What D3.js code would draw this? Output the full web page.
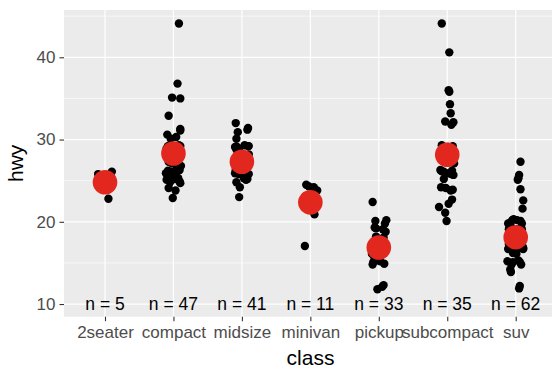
<!DOCTYPE html>
<html><head><meta charset="utf-8">
<script src="https://cdn.jsdelivr.net/npm/d3@7"></script>
<style>body{margin:0;background:#fff}svg{display:block}text{font-family:"Liberation Sans",Arial,Helvetica,sans-serif}</style>
</head><body><svg id="c" width="552" height="368"></svg>
<script>
const classes = ["2seater","compact","midsize","minivan","pickup","subcompact","suv"];
const yTicks = [10,20,30,40];
const yMinor = [15,25,35,45];
const means = [24.8, 28.298, 27.293, 22.364, 16.879, 28.143, 18.129];

// jittered hwy values per class
const hwy2seater = [25.8,22.8,26.1,25.1,24.2];
const dx2seater = [-0.10,0.05,0.10,0.03,-0.04];
const hwyCompact = [29.2,28.8,31.3,30.1,26.3,25.8,27.2,
  26.1,25.3,28.2,26.8,24.8,25.2,24.9,25.1,
  25.2,27.3,24.7,26.9,
  27.1,29.3,30.6,31.1,26.2,25.7,27.3,
  30.3,32.9,35.1,36.8,35.0,
  28.9,26.2,29.1,28.7,24.1,
  44.1,29.3,25.9,28.8,29.2,28.9,29.1,22.9,23.8,
  29.0,26.7];
const dxCompact = [-0.08,0.06,0.10,-0.04,0.09,-0.06,0.03,
  -0.03,0.07,-0.09,0.11,-0.05,0.04,0.09,-0.10,
  0.02,-0.07,0.10,0.05,
  -0.02,0.08,-0.09,0.10,-0.08,0.01,0.06,
  0.04,-0.07,-0.02,0.06,0.10,
  -0.10,0.07,0.01,0.09,-0.07,
  0.08,-0.05,-0.11,0.04,0.10,-0.02,0.07,-0.01,0.03,
  -0.06,0.05];
const hwyMidsize = [24.2,25.1,23.0,
  27.2,30.1,25.8,29.2,26.1,
  26.3,27.1,25.8,26.2,28.1,27.3,27.8,
  31.4,32.0,26.9,26.1,
  25.8,25.2,24.8,
  26.1,25.9,27.2,28.2,25.3,
  29.1,26.8,30.9,31.2,26.2,25.7,28.3,
  29.3,28.8,29.2,28.9,27.8,29.1,26.2];
const dxMidsize = [-0.03,0.06,-0.04,
  0.07,-0.08,0.02,0.09,-0.06,
  -0.09,0.04,0.10,-0.02,0.07,-0.07,0.01,
  0.09,-0.09,0.06,0.03,
  -0.05,0.08,-0.08,
  0.05,-0.10,-0.03,0.10,0.03,
  -0.07,0.09,-0.06,0.08,-0.01,0.06,-0.05,
  0.04,-0.08,0.10,-0.04,0.08,-0.10,0.02];
const hwyMinivan = [24.5,24.2,22.1,21.8,23.8,24.3,17.05,22.2,20.9,23.1,22.8];
const dxMinivan = [-0.06,0.05,0.08,-0.04,0.10,-0.02,-0.08,0.02,0.06,-0.07,0.09];
const hwyPickup = [19.2,18.1,16.8,17.2,18.8,19.3,11.8,17.1,14.8,
  16.2,12.3,16.9,17.3,15.8,12.1,15.2,16.1,16.7,14.9,
  17.0,16.8,16.3,15.7,17.2,15.1,16.9,
  20.1,20.2,22.4,17.1,19.1,18.2,19.8];
const dxPickup = [-0.04,0.07,-0.08,0.03,0.10,-0.06,-0.02,0.06,-0.09,
  0.05,0.07,-0.05,0.09,-0.07,0.05,0.02,-0.10,0.00,0.08,
  -0.03,0.10,0.04,-0.06,0.01,-0.08,0.08,
  -0.05,0.11,-0.09,0.03,0.06,-0.04,0.09];
const hwySubcompact = [25.8,25.2,26.2,23.9,21.1,21.8,22.7,22.2,20.1,
  33.2,32.2,31.8,29.3,32.1,34.3,36.0,35.8,28.8,
  26.1,29.2,28.2,27.1,24.2,23.8,24.1,
  25.9,26.3,25.7,26.1,
  44.1,40.6,29.1,26.2,27.8,28.9];
const dxSubcompact = [0.06,-0.05,-0.09,0.08,-0.03,-0.12,0.07,0.02,-0.01,
  0.05,-0.03,0.06,-0.08,0.09,0.04,0.02,0.03,0.07,
  -0.07,0.08,-0.04,0.10,-0.09,0.05,-0.02,
  0.02,-0.10,0.09,-0.05,
  -0.08,0.03,0.01,0.07,-0.06,-0.03];
const hwySuv = [20.2,15.1,19.8,17.2,16.8,
  19.1,13.9,15.3,17.0,
  16.9,17.3,12.2,16.7,16.1,18.2,14.8,
  17.1,16.8,18.1,
  17.2,19.3,18.8,16.9,19.1,17.3,
  21.6,18.9,20.1,17.1,11.9,19.2,17.8,14.2,
  15.2,18.1,17.9,14.8,
  16.9,16.2,18.3,
  17.1,18.9,19.2,16.7,
  17.2,16.9,20.3,17.8,
  25.3,23.95,27.3,25.1,25.7,22.6,
  19.8,20.2,19.1,17.0,19.9,16.8,
  15.1,18.2];
const dxSuv = [-0.05,0.06,0.09,-0.08,0.03,
  -0.10,-0.07,0.04,0.10,
  0.07,-0.03,0.06,-0.11,0.01,0.08,-0.06,
  -0.09,0.11,0.02,
  0.05,-0.06,0.09,-0.01,0.03,-0.10,
  0.10,-0.04,0.07,0.06,0.05,-0.09,0.00,-0.08,
  -0.12,0.05,-0.07,0.08,
  0.09,-0.04,0.04,
  -0.02,0.08,-0.07,0.11,
  0.03,-0.08,-0.03,0.10,
  0.04,0.07,0.07,0.03,0.05,0.11,
  -0.11,0.02,0.09,-0.05,-0.08,0.07,
  -0.04,-0.09];

const hwyByClass = [hwy2seater,hwyCompact,hwyMidsize,hwyMinivan,hwyPickup,hwySubcompact,hwySuv];
const dxByClass = [dx2seater,dxCompact,dxMidsize,dxMinivan,dxPickup,dxSubcompact,dxSuv];

const svg = d3.select("#c");
const P = {l:64, r:557, t:10, b:316.7};
const x = d3.scalePoint().domain(classes).range([105, 515.7]);
const step = x.step();
const y = d3.scaleLinear().domain([8.46, 45.75]).range([P.b, P.t]);

svg.append("rect").attr("x",P.l).attr("y",P.t).attr("width",P.r-P.l).attr("height",P.b-P.t).attr("fill","#EBEBEB");
const g = svg.append("g");
g.selectAll(".mn").data(yMinor).join("line").attr("x1",P.l).attr("x2",P.r)
  .attr("y1",d=>y(d)).attr("y2",d=>y(d)).attr("stroke","#fff").attr("stroke-width",0.6);
g.selectAll(".mj").data(yTicks).join("line").attr("x1",P.l).attr("x2",P.r)
  .attr("y1",d=>y(d)).attr("y2",d=>y(d)).attr("stroke","#fff").attr("stroke-width",1.2);
g.selectAll(".vx").data(classes).join("line").attr("y1",P.t).attr("y2",P.b)
  .attr("x1",d=>x(d)).attr("x2",d=>x(d)).attr("stroke","#fff").attr("stroke-width",1.2);

// axes
const yAxis = d3.axisLeft(y).tickValues(yTicks).tickSize(4.5).tickPadding(4);
const ya = svg.append("g").attr("transform",`translate(${P.l},0)`).call(yAxis);
ya.select(".domain").remove();
ya.selectAll("line").attr("stroke","#333").attr("stroke-width",1.1);
ya.selectAll("text").attr("fill","#4D4D4D").style("font-size","17px");

const xAxis = d3.axisBottom(x).tickSize(4.5).tickPadding(5);
const xa = svg.append("g").attr("transform",`translate(0,${P.b})`).call(xAxis);
xa.select(".domain").remove();
xa.selectAll("line").attr("stroke","#333").attr("stroke-width",1.1);
xa.selectAll("text").attr("fill","#4D4D4D").style("font-size","17px");

// points
const pts = [];
classes.forEach((c,i)=>hwyByClass[i].forEach((v,j)=>pts.push({c, v, dx: dxByClass[i][j]})));
svg.append("g").selectAll("circle").data(pts).join("circle")
  .attr("cx",d=>x(d.c)+d.dx*step).attr("cy",d=>y(d.v)).attr("r",4.2).attr("fill","#000");

// means
svg.append("g").selectAll("circle").data(classes).join("circle")
  .attr("cx",d=>x(d)).attr("cy",(d,i)=>y(means[i])).attr("r",12.3).attr("fill","#E2281E");

// n labels
svg.append("g").selectAll("text").data(classes).join("text")
  .attr("x",d=>x(d)).attr("y",y(10)).attr("dy","0.36em").attr("text-anchor","middle")
  .style("font-size","17.5px").attr("fill","#000")
  .text((d,i)=>"n = "+hwyByClass[i].length);

// titles
svg.append("text").attr("x",(P.l+P.r)/2).attr("y",365).attr("text-anchor","middle")
  .style("font-size","21px").text("class");
svg.append("text").attr("transform",`translate(23,${(P.t+P.b)/2}) rotate(-90)`).attr("text-anchor","middle")
  .style("font-size","21px").text("hwy");
</script></body></html>
